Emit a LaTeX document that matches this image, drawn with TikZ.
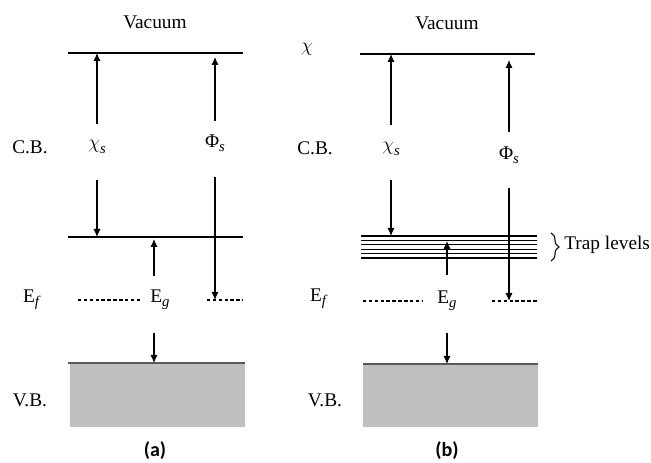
\documentclass[tikz,border=0pt]{standalone}
\usepackage{fontspec}
\setmainfont{Liberation Serif}
\newfontfamily\capfont{Carlito}
\usetikzlibrary{arrows.meta,decorations.pathreplacing}
\tikzset{
  level/.style={line width=1.2pt},
  trapline/.style={line width=0.9pt},
  fermi/.style={line width=0.9pt,dash pattern=on 2.6pt off 1.8pt},
  arr/.style={-{Latex[length=6pt,width=5.5pt]},line width=0.9pt},
  lbl/.style={font=\fontsize{14.5}{17}\selectfont,inner sep=0pt},
  panelcap/.style={font=\capfont\bfseries\fontsize{15}{18}\selectfont,inner sep=0pt},
  vband/.style={fill=black!25},
  vbtop/.style={draw=black!65,line width=1pt},
}
\newcommand{\sub}[1]{\raisebox{-0.5ex}{\fontsize{11}{12}\selectfont\itshape #1}}
\begin{document}
\begin{tikzpicture}[x=0.75pt,y=-0.75pt]
\useasboundingbox (0,0) rectangle (651,463);
% panel (a)
\node[lbl] (vaca) at (155,22) {Vacuum};
\node[lbl] (cba) at (30,147) {C.B.};
\node[lbl] (efa) at (31,300) {E\sub{f}};
\node[lbl] (vba) at (30,400) {V.B.};
\coordinate (vacaL) at (68,53);
\coordinate (vacaR) at (243,53);
\coordinate (cbaL) at (68,237);
\coordinate (cbaR) at (243,237);
\draw[level] (vacaL) -- (vacaR);
\draw[level] (cbaL) -- (cbaR);
\fill[vband] (70,363) rectangle (245,427);
\draw[vbtop] (68,363) -- (245,363);
\draw[fermi] (78,300) -- (140,300);
\draw[fermi] (207,300) -- (243,300);
\node[lbl] (chia) at (97,147) {$\chi$\sub{s}};
\node[lbl] (phia) at (215,143) {Φ\sub{s}};
\node[lbl] (ega) at (160,300) {E\sub{g}};
\coordinate (chiaT) at (97,124);
\coordinate (chiaB) at (97,180);
\coordinate (phiaT) at (215,121);
\coordinate (phiaE) at (215,57);
\coordinate (phiaB) at (215,177);
\coordinate (egaT) at (154,276);
\coordinate (egaE) at (154,239);
\coordinate (egaB) at (154,333);
\coordinate (egaV) at (154,363);
\draw[arr] (chiaT) -- (chiaT |- vacaL);
\draw[arr] (chiaB) -- (chiaB |- cbaL);
\draw[arr] (phiaT) -- (phiaE);
\draw[arr] (phiaB) -- (phiaB |- ega);
\draw[arr] (egaT) -- (egaE);
\draw[arr] (egaB) -- (egaV);
\node[panelcap] (capa) at (155,451) {(a)};
% panel (b)
\node[lbl] (chitop) at (307,49) {$\chi$};
\node[lbl] (vacb) at (447,23) {Vacuum};
\node[lbl] (cbb) at (315,148) {C.B.};
\node[lbl] (efb) at (318,299) {E\sub{f}};
\node[lbl] (vbb) at (325,400) {V.B.};
\coordinate (vacbL) at (360,54);
\coordinate (vacbR) at (535,54);
\draw[level] (vacbL) -- (vacbR);
\foreach \i in {0,...,5}
  \draw[trapline] (361,236+4.4*\i) -- (537,236+4.4*\i);
\draw[decorate,decoration={brace,amplitude=6pt},line width=0.8pt] (551,233) -- (551,261);
\node[lbl,anchor=west] (trap) at (564,245) {Trap levels};
\fill[vband] (363,364) rectangle (538,427);
\draw[vbtop] (363,364) -- (538,364);
\draw[fermi] (363,301) -- (422,301);
\draw[fermi] (492,301) -- (537,301);
\node[lbl] (chib) at (391,149) {$\chi$\sub{s}};
\node[lbl] (phib) at (509,155) {Φ\sub{s}};
\node[lbl] (egb) at (447,301) {E\sub{g}};
\coordinate (chibT) at (391,125);
\coordinate (chibB) at (391,180);
\coordinate (phibT) at (509,132);
\coordinate (phibE) at (509,60);
\coordinate (phibB) at (509,188);
\coordinate (egbT) at (447,275);
\coordinate (egbE) at (447,241);
\coordinate (egbB) at (447,333);
\coordinate (egbV) at (447,364);
\draw[arr] (chibT) -- (chibT |- vacbL);
\draw[arr] (chibB) -- (391,236);
\draw[arr] (phibT) -- (phibE);
\draw[arr] (phibB) -- (phibB |- egb);
\draw[arr] (egbT) -- (egbE);
\draw[arr] (egbB) -- (egbV);
\node[panelcap] (capb) at (447,451) {(b)};
\end{tikzpicture}
\end{document}
